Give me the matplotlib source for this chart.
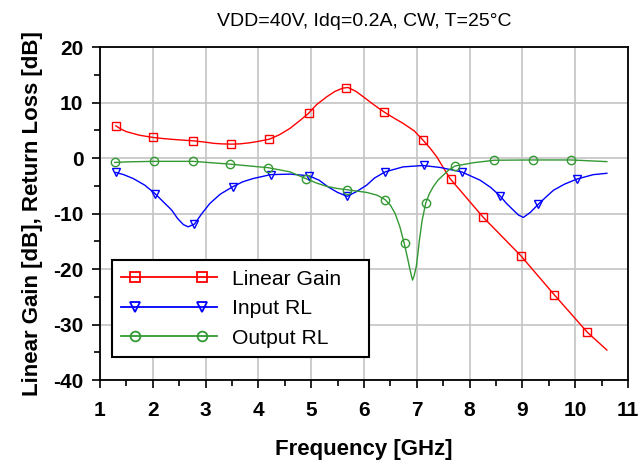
import matplotlib
matplotlib.use("Agg")
import numpy as np
import matplotlib.pyplot as plt
from matplotlib.ticker import MultipleLocator
from matplotlib.legend_handler import HandlerLine2DCompound

plt.rcParams['font.family'] = ['Liberation Sans', 'DejaVu Sans']
plt.rcParams['axes.unicode_minus'] = False

# ---- data ----
gain_f = [1.30, 1.40, 1.50, 1.75, 2.01, 2.20, 2.39, 2.60, 2.77, 3.00, 3.15, 3.30, 3.49, 3.65,
          3.84, 4.00, 4.21, 4.40, 4.60, 4.78, 4.95, 5.10, 5.29, 5.45, 5.60, 5.70, 5.85, 6.02,
          6.20, 6.38, 6.55, 6.74, 6.95, 7.12, 7.25, 7.38, 7.50, 7.63, 8.25, 8.97, 9.60, 10.23,
          10.60]
gain_db = [5.8, 5.2, 4.75, 4.1, 3.7, 3.5, 3.35, 3.2, 3.1, 2.85, 2.65, 2.55, 2.5, 2.55,
           2.75, 3.0, 3.4, 4.2, 5.35, 6.7, 8.05, 9.6, 11.0, 12.0, 12.6, 12.7, 12.0, 10.8,
           9.5, 8.3, 7.3, 6.25, 4.9, 3.2, 1.8, 0.2, -1.7, -3.7, -10.6, -17.6, -24.6, -31.4,
           -34.6]
gain_mk_f = [1.30, 2.01, 2.77, 3.49, 4.21, 4.95, 5.66, 6.38, 7.12, 7.65, 8.25, 8.97, 9.60, 10.23]
gain_mk_db = [5.8, 3.7, 3.1, 2.5, 3.4, 8.05, 12.7, 8.3, 3.2, -3.7, -10.6, -17.6, -24.6, -31.4]

inrl_f = [1.30, 1.45, 1.63, 1.85, 2.04, 2.20, 2.36, 2.47, 2.58, 2.67, 2.79, 2.93, 3.08, 3.28,
          3.51, 3.70, 3.90, 4.23, 4.60, 4.96, 5.15, 5.32, 5.50, 5.68, 5.85, 6.05, 6.20, 6.40,
          6.74, 7.12, 7.44, 7.85, 8.20, 8.40, 8.58, 8.70, 8.83, 8.93, 9.02, 9.15, 9.30, 9.45,
          9.59, 9.80, 10.03, 10.34, 10.60]
inrl_db = [-2.6, -3.0, -3.7, -4.9, -6.4, -7.9, -9.4, -10.9, -12.0, -12.4, -11.9, -10.0, -8.2, -6.5,
           -5.2, -4.3, -3.7, -3.0, -2.9, -3.2, -4.0, -5.2, -6.2, -6.9, -6.1, -4.9, -3.6, -2.5,
           -1.6, -1.35, -1.7, -2.5, -4.0, -5.3, -6.85, -8.2, -9.4, -10.3, -10.7, -9.8, -8.35, -7.0,
           -5.8, -4.7, -3.8, -3.0, -2.75]
inrl_mk_f = [1.30, 2.04, 2.79, 3.51, 4.23, 4.96, 5.68, 6.40, 7.14, 7.85, 8.58, 9.30, 10.03]
inrl_mk_db = [-2.6, -6.4, -11.9, -5.2, -3.0, -3.2, -6.9, -2.5, -1.3, -2.5, -6.85, -8.35, -3.8]

outrl_f = [1.28, 1.50, 2.02, 2.76, 3.46, 4.19, 4.41, 4.60, 4.75, 4.91, 5.10, 5.29, 5.50, 5.67,
           6.05, 6.25, 6.40, 6.50, 6.59, 6.68, 6.76, 6.82, 6.86, 6.90, 6.92, 6.95, 6.99, 7.02,
           7.05, 7.10, 7.17, 7.24, 7.31, 7.40, 7.50, 7.60, 7.72, 8.07, 8.47, 9.21, 9.92, 10.60]
outrl_db = [-0.8, -0.7, -0.6, -0.6, -1.1, -1.75, -2.15, -2.5, -3.1, -3.75, -4.5, -5.1, -5.5, -5.7,
            -6.2, -6.7, -7.5, -8.5, -10.0, -12.4, -15.3, -17.8, -19.6, -21.3, -22.0, -21.2, -19.6,
            -17.3, -14.8, -11.3, -8.1, -6.4, -5.2, -4.0, -3.1, -2.2, -1.45, -0.85, -0.4, -0.35,
            -0.35, -0.65]
outrl_mk_f = [1.28, 2.02, 2.76, 3.46, 4.19, 4.91, 5.67, 6.40, 6.77, 7.17, 7.73, 8.47, 9.21, 9.92]
outrl_mk_db = [-0.8, -0.6, -0.6, -1.1, -1.75, -3.75, -5.7, -7.5, -15.3, -8.1, -1.45, -0.4, -0.35, -0.35]

x_ticks = [1, 2, 3, 4, 5, 6, 7, 8, 9, 10, 11]
y_ticks = [-40, -30, -20, -10, 0, 10, 20]

RED = '#ff0000'
BLUE = '#0000ff'
GREEN = '#339933'


class InsetMarkerHandler(HandlerLine2DCompound):
    def get_xdata(self, legend, xdescent, ydescent, width, height, fontsize):
        xdata = np.array([-xdescent, -xdescent + width])
        xm = np.array([-xdescent + 0.146 * width, -xdescent + 0.84 * width])
        return xdata, xm


fig = plt.figure(figsize=(6.38, 4.61), dpi=100)
ax = fig.add_axes([0.1567, 0.1757, 0.8276, 0.7223])

series = [
    (gain_f, gain_db, gain_mk_f, gain_mk_db, RED, 's', 'Linear Gain'),
    (inrl_f, inrl_db, inrl_mk_f, inrl_mk_db, BLUE, 'v', 'Input RL'),
    (outrl_f, outrl_db, outrl_mk_f, outrl_mk_db, GREEN, 'o', 'Output RL'),
]
handles = []
for f, v, mf, mv, c, m, lab in series:
    ax.plot(f, v, color=c, lw=1.0, zorder=3)
    ax.plot(mf, mv, ls='none', marker=m, ms=6, mfc='none', mec=c, mew=1.0, zorder=4)
    h, = ax.plot([], [], color=c, lw=1.3, marker=m, ms=7, mfc='none', mec=c, mew=1.3, label=lab)
    handles.append(h)

ax.set_xlim(1, 11)
ax.set_ylim(-40, 20)
ax.set_xticks(x_ticks)
ax.set_yticks(y_ticks)
ax.xaxis.set_minor_locator(MultipleLocator(0.5))
ax.yaxis.set_minor_locator(MultipleLocator(5))
ax.grid(True, which='major', color='#c4c4c4', lw=1.2, zorder=0)
ax.set_axisbelow(True)
for s in ax.spines.values():
    s.set_linewidth(1.3)
    s.set_color('black')
ax.tick_params(which='major', direction='out', length=6, width=1.2, labelsize=15, pad=6)
ax.tick_params(axis='x', which='major', pad=9)
ax.tick_params(which='minor', direction='out', length=4, width=1.2)
for lbl in ax.get_xticklabels() + ax.get_yticklabels():
    lbl.set_fontweight('bold')

ax.set_xlabel('Frequency [GHz]', fontsize=16, fontweight='bold', labelpad=14)
ax.set_ylabel('Linear Gain [dB], Return Loss [dB]', fontsize=16, fontweight='bold', labelpad=7)
ax.set_title('VDD=40V, Idq=0.2A, CW, T=25°C', fontsize=14, pad=15)

leg = ax.legend(handles=handles, loc='lower left', bbox_to_anchor=(0.022, 0.068, 0.487, 0.287),
                mode='expand', numpoints=2, fontsize=15.2, frameon=True, fancybox=False,
                framealpha=1, edgecolor='black', handlelength=4.55, borderaxespad=0,
                labelspacing=0.5, handletextpad=0.7, borderpad=0.45,
                handler_map={h: InsetMarkerHandler() for h in handles})
leg.get_frame().set_linewidth(1.5)

fig.savefig('out.png', dpi=100)
